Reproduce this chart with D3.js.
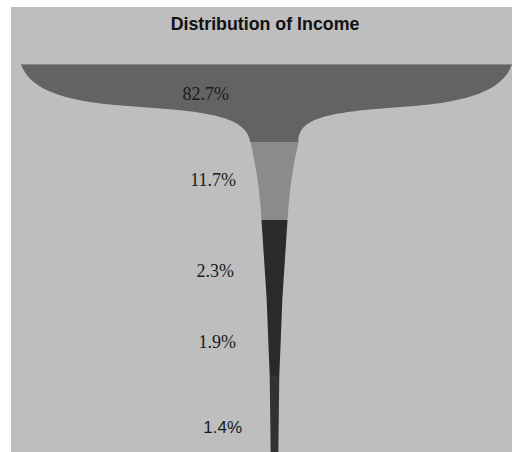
<!DOCTYPE html>
<html><head><meta charset="utf-8">
<script src="https://cdn.jsdelivr.net/npm/d3@7"></script>
<style>html,body{margin:0;padding:0;background:#fff;}svg{display:block}</style>
</head><body>
<svg id="chart" width="512" height="452"></svg>
<script>
// ---- data ----
const title = "Distribution of Income";
const labels = ["82.7%", "11.7%", "2.3%", "1.9%", "1.4%"];
const values = [82.7, 11.7, 2.3, 1.9, 1.4];

// ---- style / layout ----
const W = 512, H = 452;
const colors = ["#636363", "#8b8b8b", "#2b2b2b", "#2a2a2a", "#323232"];
const labelFamilies = ["Liberation Serif", "Liberation Serif", "Liberation Serif", "Liberation Serif", "Liberation Sans"];
const labelSizes = [18, 18, 18, 18, 17];
const labelDx = [-7, 0, -2, 0, 6];
const labelDy = [-3, 5, 18, 11, 18];
const curvature = [0, 0.18, 0.5, 0.5, 0.5];

const svg = d3.select("#chart");
svg.append("rect").attr("x", 11).attr("y", 7).attr("width", W - 11).attr("height", H - 7).attr("fill", "#bebebe");

svg.append("text").attr("x", 265).attr("y", 30).attr("text-anchor", "middle")
  .attr("font-family", "Liberation Sans, Arial, sans-serif").attr("font-weight", "bold")
  .attr("font-size", 17.8).attr("fill", "#111").text(title);

const idx = d3.range(values.length);
const y = d3.scaleBand().domain(idx).range([64, 454]).padding(0);
const sorted = values.slice().sort((a, b) => a - b);
const halfW = d3.scaleLinear().domain([0, ...sorted]).range([3.8, 4.8, 7.9, 13, 24, 245.5]);
const cx = d3.scaleLinear().domain([y(0), y(1)]).range([266.5, 274.5]).clamp(true);

function segPath(i) {
  const y0 = y(i), d = y.bandwidth(), y1 = y0 + d;
  const a = halfW(values[i]);
  const b = halfW(i + 1 < values.length ? values[i + 1] : 0);
  const p = d3.path();
  if (i === 0) {
    const ct = cx(y0), cn = cx(y1);
    const yy = f => y0 + f * d;
    const c = f => cx(yy(f));
    p.moveTo(ct - a, y0);
    p.bezierCurveTo(ct - a + 0.037 * a, yy(0.36), ct - a + 0.2 * a, yy(0.5), c(0.55) - 0.53 * a, yy(0.55));
    p.bezierCurveTo(c(0.615) - 0.23 * a, yy(0.615), c(0.69) - 1.08 * b, yy(0.69), cn - b, y1);
    p.lineTo(cn + b, y1);
    p.bezierCurveTo(c(0.69) + 1.08 * b, yy(0.69), c(0.615) + 0.23 * a, yy(0.615), c(0.55) + 0.53 * a, yy(0.55));
    p.bezierCurveTo(ct + a - 0.2 * a, yy(0.5), ct + a - 0.037 * a, yy(0.36), ct + a, y0);
    p.closePath();
  } else {
    const c = cx(y1);
    const k = curvature[i];
    const m = b + (a - b) * k;
    p.moveTo(c - a, y0);
    p.quadraticCurveTo(c - m, y0 + d / 2, c - b, y1);
    p.lineTo(c + b, y1);
    p.quadraticCurveTo(c + m, y0 + d / 2, c + a, y0);
    p.closePath();
  }
  return p.toString();
}

svg.append("g").selectAll("path").data(idx).join("path")
  .attr("d", segPath).attr("fill", i => colors[i]);

// light top edge of the first segment
svg.append("line")
  .attr("x1", cx(y(0)) - halfW(values[0])).attr("x2", cx(y(0)) + halfW(values[0]))
  .attr("y1", y(0) + 0.5).attr("y2", y(0) + 0.5)
  .attr("stroke", "#868686").attr("stroke-width", 1.2);

svg.append("g").selectAll("text").data(idx).join("text")
  .attr("x", i => 236 + labelDx[i])
  .attr("y", i => y(i) + y.bandwidth() / 2 + labelDy[i])
  .attr("text-anchor", "end")
  .attr("font-family", i => labelFamilies[i])
  .attr("font-size", i => labelSizes[i])
  .attr("fill", "#1a1a1a")
  .text(i => labels[i]);
</script>
</body></html>
